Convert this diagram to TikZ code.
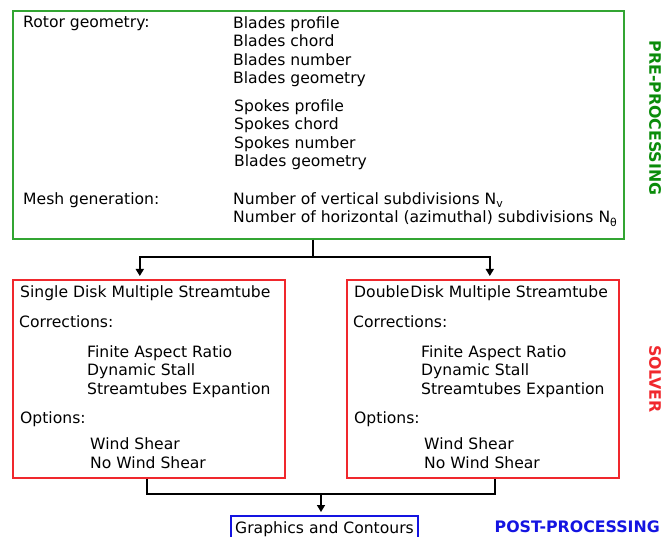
\documentclass[tikz,border=0pt]{standalone}
\usepackage{fontspec}
\setmainfont{DejaVu Sans}
\usetikzlibrary{arrows.meta,positioning}
\definecolor{pregreen}{RGB}{50,165,50}
\definecolor{pretext}{RGB}{10,140,10}
\definecolor{solvred}{RGB}{240,40,45}
\definecolor{postblue}{RGB}{20,20,225}
\tikzset{
    box/.style={draw,line width=1.6pt,anchor=north west,inner sep=0pt},
    txt/.style={anchor=base west,inner sep=0pt,font=\fontsize{15.6}{17}\selectfont},
    stage/.style={inner sep=0pt,font=\fontsize{15.8}{17}\selectfont\bfseries},
    link/.style={line width=1.6pt},
    arr/.style={link,-{Triangle[length=7pt,width=8pt]},shorten >=3pt},
}
\begin{document}
\begin{tikzpicture}[x=1pt,y=-1pt]
\useasboundingbox (0,0) rectangle (661,537);
\node[box,draw=pregreen,minimum width=611pt,minimum height=228pt] (pre) at (12,10) {};
\node[txt] (rotor) at (23,28) {Rotor geometry:};
\node[txt] (bprofile) at (233,29) {Blades profile};
\node[txt] (bchord) at (233,47) {Blades chord};
\node[txt] (bnumber) at (233,66) {Blades number};
\node[txt] (bgeom) at (233,84) {Blades geometry};
\node[txt] (sprofile) at (234,112) {Spokes profile};
\node[txt] (schord) at (234,130) {Spokes chord};
\node[txt] (snumber) at (234,149) {Spokes number};
\node[txt] (sgeom) at (234,167) {Blades geometry};
\node[txt] (mesh) at (23,205) {Mesh generation:};
\node[txt] (nvert) at (233,205) {Number of vertical subdivisions N\textsubscript{v}};
\node[txt] (nhor) at (233,223) {Number of horizontal (azimuthal) subdivisions N\textsubscript{θ}};
\node[stage,pretext,rotate=-90] (prelabel) at (655,118) {PRE-PROCESSING};
\foreach \b/\dx/\title in {sdms/0/Single Disk,ddms/334/Double\hspace{1pt}Disk}{
    \begin{scope}[xshift=\dx]
    \node[box,draw=solvred,minimum width=272pt,minimum height=198pt] (\b) at (12,279) {};
    \node[txt] (\b-title) at (20,298) {\title\ Multiple Streamtube};
    \node[txt] (\b-corr) at (19,327) {Corrections:};
    \node[txt] (\b-far) at (87,357) {Finite Aspect Ratio};
    \node[txt] (\b-stall) at (87,375) {Dynamic Stall};
    \node[txt] (\b-exp) at (87,394) {Streamtubes Expantion};
    \node[txt] (\b-opt) at (20,423) {Options:};
    \node[txt] (\b-ws) at (90,449) {Wind Shear};
    \node[txt] (\b-nows) at (90,468) {No Wind Shear};
    \end{scope}
}
\node[stage,solvred,rotate=-90] (solvlabel) at (655,379) {SOLVER};
\node[box,draw=postblue,minimum width=187pt,minimum height=40pt] (post) at (230,515) {};
\node[txt] (graphics) at (235,533) {Graphics and Contours};
\node[stage,postblue,anchor=base east] (postlabel) at (660,532) {POST-PROCESSING};
\coordinate (split) at (313,257);
\coordinate (merge) at (321,494);
\draw[link] (pre.south -| split) -- (split);
\draw[arr] (split) -| ([xshift=-9pt]sdms.north);
\draw[arr] (split) -| ([xshift=7pt]ddms.north);
\draw[link] ([xshift=-2pt]sdms.south) |- (merge) -| ([xshift=12pt]ddms.south);
\draw[arr] (merge) -- (post.north -| merge);
\end{tikzpicture}
\end{document}
